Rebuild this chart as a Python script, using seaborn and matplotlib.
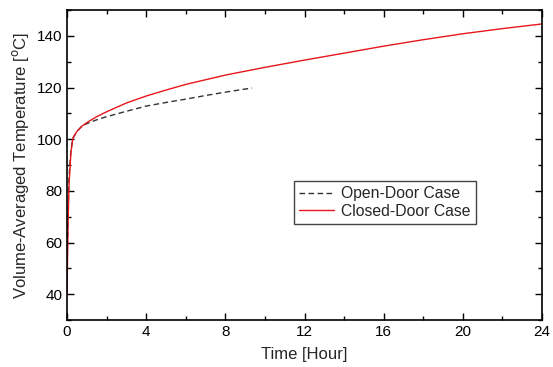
import matplotlib
matplotlib.use("Agg")
import matplotlib.pyplot as plt
import seaborn as sns
import pandas as pd
from matplotlib.ticker import MultipleLocator

open_t = [0, 0.05, 0.1, 0.2, 0.3, 0.5, 0.75, 1, 1.5, 2, 3, 4, 5, 6, 7, 8, 9, 9.35]
open_v = [48, 70, 85, 96, 100.3, 103, 105, 106, 107.5, 108.7, 110.8, 112.8, 114.2, 115.5, 116.9, 118.2, 119.4, 119.8]

closed_t = [0, 0.05, 0.1, 0.2, 0.3, 0.5, 0.75, 1, 1.5, 2, 3, 4, 5, 6, 7, 8, 10, 12, 14, 16, 18, 20, 22, 24]
closed_v = [40, 65, 82, 95, 100.5, 103, 105, 106.4, 108.7, 110.6, 114, 116.7, 119, 121.2, 123, 124.8, 127.8, 130.6, 133.3, 136, 138.5, 140.8, 142.8, 144.6]

x_ticks = [0, 4, 8, 12, 16, 20, 24]
y_ticks = [40, 60, 80, 100, 120, 140]

sns.set_style("ticks")
plt.rcParams['font.family'] = ['Liberation Sans', 'DejaVu Sans']

df_open = pd.DataFrame({"t": open_t, "v": open_v})
df_closed = pd.DataFrame({"t": closed_t, "v": closed_v})

fig = plt.figure(figsize=(5.53, 3.67), dpi=100)
ax = fig.add_axes([67/553, 1-320/367, (542-67)/553, (320-10)/367])

sns.lineplot(data=df_open, x="t", y="v", ax=ax, color="#333333", linestyle=(0, (4, 2.5)),
             linewidth=1.0, label="Open-Door Case", sort=False)
sns.lineplot(data=df_closed, x="t", y="v", ax=ax, color="#e8161b", linewidth=1.0,
             label="Closed-Door Case", sort=False)

ax.set_xlim(0, 24)
ax.set_ylim(30, 150)
ax.set_xticks(x_ticks)
ax.set_yticks(y_ticks)
ax.xaxis.set_minor_locator(MultipleLocator(2))
ax.yaxis.set_minor_locator(MultipleLocator(10))
ax.tick_params(which="both", direction="in", top=True, right=True, labelsize=11, colors="black")
ax.tick_params(which="major", length=5, width=1)
ax.tick_params(which="minor", length=3, width=1)
for s in ax.spines.values():
    s.set_linewidth(1.2)
    s.set_color("black")

ax.set_xlabel("Time [Hour]", fontsize=12, labelpad=6)
ax.set_ylabel("Volume-Averaged Temperature [$^{\\rm o}$C]", fontsize=12, labelpad=4)

leg = ax.legend(loc="upper left", bbox_to_anchor=((294-67)/475, 1-(181-10)/310),
                fontsize=11.3, frameon=True, fancybox=False, framealpha=1,
                edgecolor="#444444", handlelength=2.2, handletextpad=0.45,
                borderpad=0.35, labelspacing=0.15, borderaxespad=0)
leg.get_frame().set_linewidth(1.0)

fig.savefig("out.png", dpi=100)
